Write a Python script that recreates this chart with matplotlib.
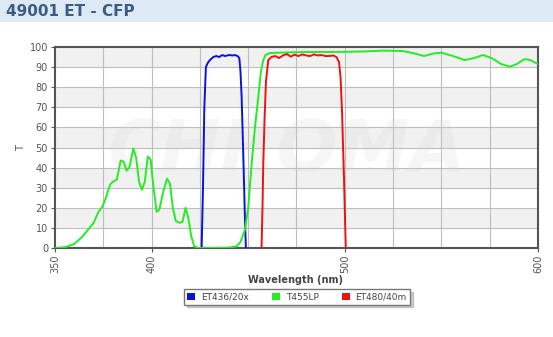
import numpy as np
import matplotlib.pyplot as plt
from matplotlib.patches import Rectangle, Patch

# ET436/20x (blue)
wl_ex = [425.9, 426.6, 427.3, 428.1, 429.0, 430.2, 431.9, 433.5, 435.0, 436.5,
         438.0, 440.0, 442.0, 443.1, 444.5, 445.4, 446.0, 446.6, 447.2, 447.8,
         448.3, 448.8]
t_ex = [0, 30, 70, 90, 92, 93.5, 95, 95.5, 95, 96,
        95.5, 96, 95.8, 96, 95.5, 94.5, 88, 75, 55, 33.8,
        15, 0]

# T455LP (green)
wl_dm = [350, 353, 356, 360, 364, 367, 370, 372.5, 374.5, 376,
         378.5, 380, 382, 384, 385.5, 387, 388.5, 390.5, 392, 393.5,
         395, 396.5, 398, 399.5, 401, 402.6, 404, 406, 408, 409.5,
         411, 412.5, 414.5, 416, 417.6, 419, 420.5, 422, 424, 430,
         440, 444, 446, 448.3, 450, 451.8, 453.5, 455.2, 456.5, 457.8,
         459, 461, 470, 480, 490, 500, 510, 520, 530, 536,
         541, 546, 550, 556, 562, 567, 571.5, 576, 581, 585.4,
         589, 593, 596, 600]
t_dm = [0, 0.2, 0.6, 2, 5.5, 9, 12.5, 18, 20.5, 24,
        31.5, 33, 34, 43.5, 43, 38.5, 40, 49.5, 45, 33,
        29, 33, 45.5, 44, 30, 18, 19, 28, 34.5, 32,
        20, 13.5, 12.5, 13, 20, 15, 6, 1, 0, 0,
        0.2, 0.8, 3, 9, 20, 42, 60, 75, 87, 93.5,
        96, 97, 97.3, 97.5, 97.5, 97.6, 97.8, 98.2, 98, 96.8,
        95.5, 96.8, 97.2, 95.5, 93.5, 94.5, 96, 94.5, 91.5, 90.2,
        91.5, 94, 93.5, 91.5]

# ET480/40m (red)
wl_em = [456.9, 457.4, 457.8, 458.5, 459.2, 460.4, 462, 464, 466, 468,
         470, 472, 474, 476, 478, 480, 482, 484, 486, 488,
         490, 492, 494, 495.7, 497, 497.8, 498.6, 499.1, 499.6, 500.1,
         500.5]
t_em = [0, 20, 42, 65, 83, 93.5, 95, 95.5, 94.5, 95.8,
        96.5, 95.2, 96.2, 95.5, 96.3, 95.8, 95.5, 96.3, 95.8, 96,
        95.5, 95.5, 95.8, 95, 92.5, 85, 67, 50, 34, 15,
        0]

names = ['ET436/20x', 'T455LP', 'ET480/40m']
colors = ['#0a14d8', '#22ee22', '#ee1111']
xticks = [350, 400, 500, 600]

fig = plt.figure(figsize=(5.53, 3.37), dpi=100)

# title bar
fig.patches.append(Rectangle((0, 1 - 22/337), 1, 22/337, transform=fig.transFigure,
                             facecolor='#dde9f5', edgecolor='none', zorder=0))
fig.text(6/553, 1 - 11/337, '49001 ET - CFP', fontsize=11, fontweight='bold',
         color='#3d5c85', va='center', ha='left')

ax = fig.add_axes([55/553, 1 - 248/337, 483/553, 201/337])

# alternating bands
for y0 in range(10, 100, 20):
    ax.axhspan(y0, y0 + 10, color='#f1f1f1', zorder=0, lw=0)
for x in np.arange(375, 600, 25):
    ax.axvline(x, color='#bebebe', lw=0.8, zorder=1)
for y in range(10, 100, 10):
    ax.axhline(y, color='#bebebe', lw=0.8, zorder=1)

# faint watermark
ax.text(470, 48, 'CHROMA', fontsize=52, fontweight='bold', style='italic',
        color='#d0d0d0', alpha=0.18, ha='center', va='center', zorder=1)

ax.plot(wl_ex, t_ex, color=colors[0], lw=1.4, zorder=3)
ax.plot(wl_dm, t_dm, color=colors[1], lw=1.4, zorder=3)
ax.plot(wl_em, t_em, color=colors[2], lw=1.4, zorder=3)

ax.set_xlim(350, 600)
ax.set_ylim(0, 100)
ax.set_xticks(xticks)
ax.set_xticklabels([str(v) for v in xticks], rotation=90)
ax.set_yticks(range(0, 101, 10))
ax.tick_params(labelsize=7, colors='#555555', length=3, width=0.8, pad=2)
for s in ax.spines.values():
    s.set_color('#555555')
    s.set_linewidth(1.5)

fig.text(296/553, 1 - 280/337, 'Wavelength (nm)', fontsize=7, fontweight='bold',
         color='#444444', ha='center', va='center')
fig.text(21/553, 1 - 148/337, 'T', fontsize=7, color='#555555', rotation=90,
         ha='center', va='center')

handles = [Patch(facecolor=c, edgecolor='none', label=n) for n, c in zip(names, colors)]
leg = fig.legend(handles=handles, loc='center', bbox_to_anchor=(297/553, 1 - 297/337),
                 ncol=3, fontsize=6.5, frameon=True, handlelength=0.9, handleheight=0.9,
                 columnspacing=2.6, handletextpad=0.6, borderpad=0.35, fancybox=False,
                 shadow={'color': '#aaaaaa', 'alpha': 0.6})
for t in leg.get_texts():
    t.set_color('#444444')
leg.get_frame().set_edgecolor('#777777')

fig.savefig('out.png', dpi=100)
